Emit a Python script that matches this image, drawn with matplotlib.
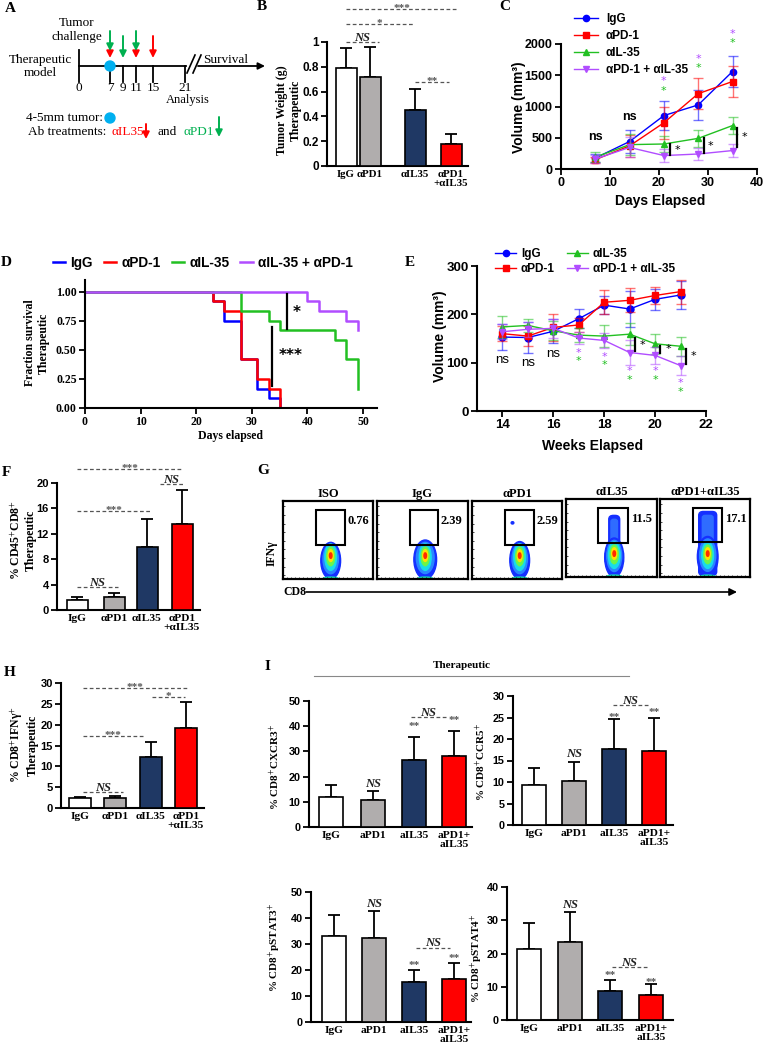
import numpy as np
import matplotlib.pyplot as plt
from matplotlib.lines import Line2D
from matplotlib.patches import Rectangle, Ellipse, Circle, FancyBboxPatch
from matplotlib.colors import to_rgba
from matplotlib.ticker import FuncFormatter

plt.rcParams['mathtext.fontset'] = 'stix'
SERIF = ['Liberation Serif', 'DejaVu Serif']
SANS = ['Liberation Sans', 'DejaVu Sans']

# ---------------- data ----------------
# B: tumor weight
groups_greek = ['IgG', 'αPD1', 'αIL35', 'αPD1\n+αIL35']
weight_mean = [0.79, 0.72, 0.45, 0.18]
weight_sd = [0.16, 0.24, 0.17, 0.08]

# C: tumor volume by day
days_c = [7, 14, 21, 28, 35]
c_names = ['IgG', 'αPD-1', 'αIL-35', 'αPD-1 + αIL-35']
c_igg = [175, 440, 855, 1025, 1560]
c_igg_sd = [60, 190, 235, 245, 250]
c_pd1 = [150, 370, 740, 1205, 1400]
c_pd1_sd = [50, 180, 260, 245, 245]
c_il35 = [190, 390, 400, 490, 695]
c_il35_sd = [80, 170, 130, 130, 140]
c_combo = [160, 345, 215, 240, 295]
c_combo_sd = [60, 160, 110, 100, 110]

# D: survival
d_names = ['IgG', 'αPD-1', 'αIL-35', 'αIL-35 + αPD-1']
surv_t_igg = [0, 23, 25, 28, 31, 33, 35]
surv_igg = [1.0, 0.917, 0.75, 0.417, 0.167, 0.083, 0.0]
surv_t_pd1 = [0, 23, 25, 28, 31, 33, 35]
surv_pd1 = [1.0, 0.917, 0.833, 0.417, 0.25, 0.167, 0.0]
surv_t_il35 = [0, 28, 33, 35, 45, 47, 49]
surv_il35 = [1.0, 0.833, 0.75, 0.667, 0.583, 0.417, 0.167]
surv_t_combo = [0, 40, 42, 47, 49]
surv_combo = [1.0, 0.917, 0.833, 0.75, 0.667]

# E: tumor volume by week
weeks_e = [14, 15, 16, 17, 18, 19, 20, 21]
e_names = ['IgG', 'αPD-1', 'αIL-35', 'αPD-1 + αIL-35']
e_igg = [153, 152, 165, 191, 219, 211, 231, 240]
e_igg_sd = [27, 32, 25, 20, 18, 37, 22, 28]
e_pd1 = [160, 155, 173, 178, 225, 229, 239, 247]
e_pd1_sd = [15, 20, 28, 15, 25, 25, 17, 25]
e_il35 = [174, 177, 166, 157, 155, 159, 139, 134]
e_il35_sd = [23, 14, 20, 15, 23, 23, 21, 20]
e_combo = [164, 169, 171, 151, 146, 121, 115, 94]
e_combo_sd = [15, 15, 20, 12, 15, 25, 18, 20]

# F, H
cd8_mean = [1.6, 2.1, 10.0, 13.6]
cd8_sd = [0.5, 0.5, 4.3, 5.3]
ifng_mean = [2.4, 2.4, 12.2, 19.3]
ifng_sd = [0.3, 0.5, 3.7, 6.1]

# G: flow gates
flow_titles = ['ISO', 'IgG', 'αPD1', 'αIL35', 'αPD1+αIL35']
flow_pct = ['0.76', '2.39', '2.59', '11.5', '17.1']

# I
groups_latin = ['IgG', 'aPD1', 'aIL35', 'aPD1+\naIL35']
cxcr3_mean = [11.9, 10.6, 26.5, 28.0]
cxcr3_sd = [4.9, 3.7, 9.3, 10.2]
ccr5_mean = [9.3, 10.3, 17.6, 17.3]
ccr5_sd = [3.9, 4.4, 7.1, 7.6]
pstat3_mean = [33.0, 32.3, 15.2, 16.5]
pstat3_sd = [8.3, 10.3, 4.7, 6.1]
pstat4_mean = [21.4, 23.5, 8.6, 7.6]
pstat4_sd = [7.8, 8.9, 3.4, 3.1]

# A: schedule
a_day_labels = ['0', '7', '9', '11', '15', '21']

BAR_COLORS = ['white', '#b0adad', '#1f3864', '#ff0000']
LINE_COLORS = ['#0000ff', '#ff0000', '#22c022', '#b14dff']
MARKERS = ['o', 's', '^', 'v']
RED, GREEN, BLUE = '#ff0000', '#00b050', '#00b0f0'

# ---------------- figure ----------------
W, H = 764, 1050
fig = plt.figure(figsize=(W / 100, H / 100), dpi=100)
ov = fig.add_axes([0, 0, 1, 1])
ov.set_xlim(0, W)
ov.set_ylim(H, 0)
ov.axis('off')


def px_axes(l, t, r, b):
    return fig.add_axes([l / W, 1 - b / H, (r - l) / W, (b - t) / H])


def txt(x, y, s, size=9, family=SERIF, weight='normal', **kw):
    kw.setdefault('ha', 'center')
    kw.setdefault('va', 'center')
    ov.text(x, y, s, fontsize=size, fontfamily=family, fontweight=weight, **kw)


def style(ax, tick_fs, family=SANS):
    for s in ['top', 'right']:
        ax.spines[s].set_visible(False)
    for s in ['left', 'bottom']:
        ax.spines[s].set_linewidth(1.5)
    ax.tick_params(width=1.3, length=4, labelsize=tick_fs, pad=2)
    ax.yaxis.set_major_formatter(FuncFormatter(lambda v, p: '{:g}'.format(round(v, 3))))
    for lab in ax.get_xticklabels() + ax.get_yticklabels():
        lab.set_fontfamily(family)
        lab.set_fontweight('bold')
    ax.set_facecolor('none')


def sig(ax, x1, x2, y, s, italic=False, fs=8, off=-1.5):
    ax.plot([x1, x2], [y, y], ls=(0, (3, 2)), color='#555555', lw=0.9, clip_on=False)
    ax.annotate(s, xy=((x1 + x2) / 2, y), xytext=(0, off), textcoords='offset points',
                ha='center', va='baseline', fontsize=fs, fontfamily=SERIF,
                fontweight='bold', style='italic' if italic else 'normal',
                color='#222222' if italic else '#555555', annotation_clip=False)


def bar_panel(ax, pos, width, means, sds, top, step, labels, tick_fs=7.5, lab_fs=8):
    ax.bar(pos, means, width, color=BAR_COLORS, edgecolor='black', linewidth=1.2, zorder=3)
    ax.errorbar(pos, means, yerr=[np.zeros(len(means)), sds], fmt='none', ecolor='black',
                elinewidth=1.3, capsize=4, capthick=1.3, zorder=2)
    ax.set_ylim(0, top)
    ax.set_yticks(np.arange(0, top + step / 2, step))
    ax.set_xticks(pos)
    ax.set_xticklabels(labels, linespacing=1.0)
    style(ax, tick_fs)
    for lab in ax.get_xticklabels():
        lab.set_fontfamily(SERIF)
        lab.set_fontsize(lab_fs)
    ax.tick_params(axis='x', length=0, pad=3)


def mark_above(ax, x, y, s, italic=False, fs=8):
    ax.text(x, y, s, ha='center', va='center', fontsize=fs, fontfamily=SERIF,
            fontweight='bold', style='italic' if italic else 'normal',
            color='#222222' if italic else '#555555', clip_on=False)


# ---------------- panel letters ----------------
for letter, x, y in [('A', 10, 8), ('B', 262, 7), ('C', 505, 7), ('D', 6, 263),
                     ('E', 410, 262), ('F', 6, 472), ('G', 263, 471), ('H', 10, 672),
                     ('I', 267, 667)]:
    txt(x, y, letter, size=11, weight='bold')

# ---------------- A: schedule ----------------
tick_x = [79, 110, 123, 136, 153, 185]
txt(77, 23, 'Tumor', size=9.5)
txt(77, 37, 'challenge', size=9.5)
txt(40, 60, 'Therapeutic', size=9.5)
txt(40, 73, 'model', size=9.5)
ov.plot([79, 186], [66, 66], color='black', lw=1.3)
ov.plot([79, 79], [50, 82], color='black', lw=1.3)
for x, lab in zip(tick_x, a_day_labels):
    if x != 79:
        ov.plot([x, x], [66, 82], color='black', lw=1.3)
    txt(x, 88, lab, size=9.5)
txt(188, 100, 'Analysis', size=9)
ov.plot([187, 195], [73, 55], color='black', lw=1.2)
ov.plot([193, 201], [73, 55], color='black', lw=1.2)
ov.annotate('', xy=(265, 66), xytext=(198, 66),
            arrowprops=dict(arrowstyle='-|>', color='black', lw=1.3, mutation_scale=10,
                            shrinkA=0, shrinkB=0))
txt(226, 60, 'Survival', size=9.5)
ov.add_patch(Circle((110, 66), 5, color=BLUE, zorder=5))


def arrow(x, y0, y1, color):
    ov.annotate('', xy=(x, y1), xytext=(x, y0),
                arrowprops=dict(arrowstyle='-|>', color=color, lw=1.4, mutation_scale=10,
                                shrinkA=0, shrinkB=0))


arrow(110, 44, 58, RED)
arrow(110, 31, 51, GREEN)
arrow(123, 36, 58, GREEN)
arrow(136, 44, 58, RED)
arrow(136, 31, 51, GREEN)
arrow(153, 36, 58, RED)
txt(103, 118, '4-5mm tumor:', size=9.5, ha='right')
ov.add_patch(Circle((110, 118), 5, color=BLUE))
txt(28, 132, 'Ab treatments:', size=9.5, ha='left')
txt(111, 132, 'αIL35', size=9.5, ha='left', color=RED)
arrow(146, 124, 139, RED)
txt(157, 132, 'and', size=9.5, ha='left')
txt(183, 132, 'αPD1', size=9.5, ha='left', color=GREEN)
arrow(219, 117, 137, GREEN)

# ---------------- B ----------------
axB = px_axes(327, 42, 468, 166)
posB = [19, 43, 88, 124]
bar_panel(axB, posB, 21, weight_mean, weight_sd, 1.0, 0.2, groups_greek, tick_fs=8.5, lab_fs=7.8)
axB.set_xlim(0, 141)
sig(axB, 19, 52, 1.0, 'NS', italic=True, fs=9, off=1)
sig(axB, 19, 86, 1.145, '*')
sig(axB, 19, 130, 1.266, '***')
sig(axB, 88, 122, 0.677, '**')
txt(289, 110, 'Tumor Weight (g)\nTherapeutic', size=8.5, weight='bold', rotation=90, linespacing=1.2)

# ---------------- C ----------------
axC = px_axes(561, 44, 757, 169)
c_series = [(c_igg, c_igg_sd), (c_pd1, c_pd1_sd), (c_il35, c_il35_sd), (c_combo, c_combo_sd)]
for (vals, sd), col, m in zip(c_series, LINE_COLORS, MARKERS):
    axC.errorbar(days_c, vals, yerr=sd, fmt='none', ecolor=to_rgba(col, 0.55),
                 elinewidth=1, capsize=3.5, capthick=1)
    axC.plot(days_c, vals, color=col, lw=1, marker=m, ms=4.5)
axC.set_xlim(0, 40)
axC.set_ylim(0, 2000)
axC.set_xticks(range(0, 41, 10))
axC.set_yticks(range(0, 2001, 500))
style(axC, 9)
for x, y in [(7, 520), (14, 840)]:
    axC.text(x, y, 'ns', ha='center', va='center', fontsize=9, fontfamily=SANS, fontweight='bold')
for x, yp, yg in [(21, 1415, 1255), (28, 1760, 1612), (35, 2154, 2010)]:
    axC.text(x, yp, '*', color=LINE_COLORS[3], ha='center', va='center', fontsize=8, clip_on=False)
    axC.text(x, yg, '*', color=LINE_COLORS[2], ha='center', va='center', fontsize=8, clip_on=False)
for x, y1, y2 in [(22.3, 220, 400), (29.1, 250, 495), (36.0, 360, 650)]:
    axC.plot([x, x], [y1, y2], color='black', lw=1.6)
    axC.text(x + 0.8, (y1 + y2) / 2, '*', ha='left', va='center', fontsize=8)
axC.legend([Line2D([], [], color=c, marker=m, ms=4.5, lw=1) for c, m in zip(LINE_COLORS, MARKERS)],
           c_names, loc='upper left', bbox_to_anchor=(568 / W, 1 - 7 / H),
           bbox_transform=fig.transFigure, frameon=False, handlelength=2.0, handletextpad=0.7,
           labelspacing=0.42, borderpad=0, prop=dict(family=SANS, weight='bold', size=8.5))
txt(660, 201, 'Days Elapsed', size=10, family=SANS, weight='bold')
txt(519, 107, 'Volume (mm³)', size=10, family=SANS, weight='bold', rotation=90)

# ---------------- D ----------------
axD = px_axes(85, 280, 377, 408)
d_series = [(surv_t_igg, surv_igg), (surv_t_pd1, surv_pd1), (surv_t_il35, surv_il35),
            (surv_t_combo, surv_combo)]
for (t, s), col in zip(d_series, LINE_COLORS):
    axD.step(t, s, where='post', color=col, lw=1.8)
axD.set_xlim(0, 52.5)
axD.set_ylim(0, 1.1)
axD.set_xticks(range(0, 51, 10))
axD.set_yticks([0, 0.25, 0.5, 0.75, 1.0])
style(axD, 8.5, family=SERIF)
axD.yaxis.set_major_formatter(FuncFormatter(lambda v, p: '{:.2f}'.format(v)))
for lab in axD.get_yticklabels():
    lab.set_fontfamily(SERIF)
    lab.set_fontweight('bold')
axD.plot([36.3, 36.3], [0.68, 0.98], color='black', lw=1.6)
axD.text(38.1, 0.82, '*', ha='center', va='center', fontsize=11, fontweight='bold')
axD.plot([33.6, 33.6], [0.19, 0.70], color='black', lw=1.6)
axD.text(37.0, 0.45, '***', ha='center', va='center', fontsize=11, fontweight='bold')
axD.legend([Line2D([], [], color=c, lw=1.8) for c in LINE_COLORS], d_names,
           loc='center left', bbox_to_anchor=(46 / W, 1 - 263 / H), bbox_transform=fig.transFigure,
           ncol=4, frameon=False, handlelength=0.9, handletextpad=0.4, columnspacing=0.8,
           borderpad=0, prop=dict(family=SANS, weight='bold', size=9.8))
txt(37, 343, 'Fraction survival\nTherapeutic', size=8.5, weight='bold', rotation=90, linespacing=1.2)
txt(230, 436, 'Days elapsed', size=8.5, weight='bold')

# ---------------- E ----------------
axE = px_axes(477, 266, 706, 411)
e_series = [(e_igg, e_igg_sd), (e_pd1, e_pd1_sd), (e_il35, e_il35_sd), (e_combo, e_combo_sd)]
for (vals, sd), col, m in zip(e_series, LINE_COLORS, MARKERS):
    axE.errorbar(weeks_e, vals, yerr=sd, fmt='none', ecolor=to_rgba(col, 0.55),
                 elinewidth=1, capsize=3.5, capthick=1)
    axE.plot(weeks_e, vals, color=col, lw=1, marker=m, ms=5)
axE.set_xlim(13, 22)
axE.set_ylim(0, 300)
axE.set_xticks(range(14, 23, 2))
axE.set_yticks(range(0, 301, 100))
style(axE, 9.5)
for x, y in [(14, 105), (15, 100), (16, 117)]:
    axE.text(x, y, 'ns', ha='center', va='center', fontsize=9.5, fontfamily=SANS)
for x, yp, yg in [(17, 121, 103), (18, 112, 95), (19, 83, 64), (20, 83, 64), (21, 58, 39)]:
    axE.text(x, yp, '*', color=LINE_COLORS[3], ha='center', va='center', fontsize=8)
    axE.text(x, yg, '*', color=LINE_COLORS[2], ha='center', va='center', fontsize=8)
for x, y1, y2 in [(19.19, 124, 151), (20.2, 120, 135), (21.2, 98, 128)]:
    axE.plot([x, x], [y1, y2], color='black', lw=1.6)
    axE.text(x + 0.2, (y1 + y2) / 2, '*', ha='left', va='center', fontsize=8)
axE.legend([Line2D([], [], color=c, marker=m, ms=4.5, lw=1) for c, m in zip(LINE_COLORS, MARKERS)],
           e_names, loc='upper left', bbox_to_anchor=(489 / W, 1 - 242 / H),
           bbox_transform=fig.transFigure, ncol=2, frameon=False, handlelength=1.8,
           handletextpad=0.4, columnspacing=1.0, labelspacing=0.3, borderpad=0,
           prop=dict(family=SANS, weight='bold', size=8.5))
txt(593, 446, 'Weeks Elapsed', size=10, family=SANS, weight='bold')
txt(440, 336, 'Volume (mm³)', size=10, family=SANS, weight='bold', rotation=90)

# ---------------- F ----------------
axF = px_axes(57, 483, 200, 610)
posF = [20, 57, 90, 125]
bar_panel(axF, posF, 21, cd8_mean, cd8_sd, 20, 4, groups_greek, tick_fs=8, lab_fs=8.2)
axF.set_xlim(0, 143)
sig(axF, 20, 61, 3.6, 'NS', italic=True, fs=9, off=1)
sig(axF, 20, 93, 15.6, '***')
sig(axF, 20, 125, 22.2, '***')
sig(axF, 103, 126, 19.8, 'NS', italic=True, fs=9, off=1)
txt(23, 540, '% CD45$^{+}$CD8$^{+}$\nTherapeutic', size=8.5, weight='bold', rotation=90, linespacing=1.2)

# ---------------- G ----------------
flow_boxes = [(283, 501, 373, 579), (377, 501, 468, 579), (472, 501, 562, 579),
              (566, 499, 657, 577), (660, 499, 750, 577)]
gates = [(0.37, 0.69, 0.43, 0.885), (0.36, 0.67, 0.43, 0.885), (0.37, 0.69, 0.43, 0.885),
         (0.355, 0.68, 0.435, 0.88), (0.37, 0.69, 0.45, 0.89)]
# (body top, body width, column top, column width)
blobs = [(0.47, 0.22, 0.0, 0.0), (0.50, 0.25, 0.0, 0.0), (0.48, 0.22, 0.0, 0.0),
         (0.50, 0.21, 0.83, 0.12), (0.52, 0.23, 0.88, 0.2)]
for box, gate, blob, title, pct in zip(flow_boxes, gates, blobs, flow_titles, flow_pct):
    ax = px_axes(*box)
    ax.set_xlim(0, 1)
    ax.set_ylim(0, 1)
    for s in ax.spines.values():
        s.set_linewidth(1.6)
    ax.set_xticks(np.arange(0.04, 1, 0.045))
    ax.set_yticks(np.arange(0.05, 1, 0.11))
    ax.tick_params(direction='in', length=1.5, width=0.5, labelleft=False, labelbottom=False)
    cx = 0.53
    btop, bw, ctop, cw = blob
    if ctop > 0:
        ax.add_patch(FancyBboxPatch((cx - cw / 2, 0.02), cw, ctop - 0.06,
                                    boxstyle='round,pad=0,rounding_size=0.05',
                                    color='#1530ff', mutation_aspect=1))
        ax.add_patch(FancyBboxPatch((cx - cw * 0.3, 0.05), cw * 0.6, ctop - 0.14,
                                    boxstyle='round,pad=0,rounding_size=0.03',
                                    color='#2f6cff', mutation_aspect=1))
    ax.add_patch(Ellipse((cx, btop / 2), bw, btop, color='#1530ff'))
    ax.add_patch(Ellipse((cx, btop / 2 + 0.02), bw * 0.78, btop * 0.8, color='#2a86ff'))
    ax.add_patch(Ellipse((cx, 0.28), 0.13, 0.34, color='#18dcea'))
    ax.add_patch(Ellipse((cx, 0.29), 0.09, 0.24, color='#6cf54a'))
    ax.add_patch(Ellipse((cx, 0.30), 0.055, 0.15, color='#ffe100'))
    ax.add_patch(Ellipse((cx, 0.30), 0.028, 0.07, color='#ff2a00'))
    ax.add_patch(Ellipse((cx, 0.0), 0.18, 0.05, color='#19d8b0'))
    gx0, gx1, gy0, gy1 = gate
    ax.add_patch(Rectangle((gx0, gy0), gx1 - gx0, gy1 - gy0, fill=False, ec='black', lw=1.5, zorder=5))
    ax.text(gx1 + 0.03, 0.75, pct, ha='left', va='center', fontsize=9, fontfamily=SERIF, fontweight='bold')
    ax.set_title(title, fontsize=9, fontfamily=SERIF, fontweight='bold', pad=3)
    if title == 'αPD1':
        ax.add_patch(Circle((0.45, 0.72), 0.015, color='#1530ff'))
txt(272, 553, 'IFNγ', size=8.5, weight='bold', rotation=90)
txt(283, 592, 'CD8', size=8.5, weight='bold', ha='left')
ov.annotate('', xy=(737, 592), xytext=(306, 592),
            arrowprops=dict(arrowstyle='-|>', color='black', lw=1.2, mutation_scale=11,
                            shrinkA=0, shrinkB=0))

# ---------------- H ----------------
axH = px_axes(61, 683, 204, 808)
posH = [19, 54, 90, 125]
bar_panel(axH, posH, 22, ifng_mean, ifng_sd, 30, 5, groups_greek, tick_fs=8, lab_fs=8.2)
axH.set_xlim(0, 143)
sig(axH, 22, 62, 3.84, 'NS', italic=True, fs=9, off=1)
sig(axH, 22, 82, 17.3, '***')
sig(axH, 22, 126, 28.8, '***')
sig(axH, 91, 124, 26.6, '*')
txt(24, 745, '% CD8$^{+}$IFNγ$^{+}$\nTherapeutic', size=8.5, weight='bold', rotation=90, linespacing=1.2)

# ---------------- I ----------------
txt(462, 665, 'Therapeutic', size=8, weight='bold')
ov.plot([314, 629], [676, 676], color='#888888', lw=0.8)

i_panels = [
    ((309, 701, 472, 827), [22, 64, 105, 145], 163, cxcr3_mean, cxcr3_sd, 50, 10, '% CD8$^{+}$CXCR3$^{+}$', (275, 767)),
    ((513, 696, 673, 825), [21, 61, 101, 141], 160, ccr5_mean, ccr5_sd, 30, 5, '% CD8$^{+}$CCR5$^{+}$', (481, 762)),
    ((311, 892, 471, 1022), [23, 63, 103, 143], 160, pstat3_mean, pstat3_sd, 50, 10, '% CD8$^{+}$pSTAT3$^{+}$', (275, 947)),
    ((507, 887, 673, 1020), [22, 63, 103, 144], 166, pstat4_mean, pstat4_sd, 40, 10, '% CD8$^{+}$pSTAT4$^{+}$', (477, 958)),
]
i_axes = []
for box, pos, xr, means, sds, top, step, ylab, lpos in i_panels:
    ax = px_axes(*box)
    bar_panel(ax, pos, 24, means, sds, top, step, groups_latin, tick_fs=7.8, lab_fs=8.2)
    ax.set_xlim(0, xr)
    txt(lpos[0], lpos[1], ylab, size=8, weight='bold', rotation=90)
    i_axes.append(ax)

ax = i_axes[0]
mark_above(ax, 64, 17.2, 'NS', italic=True, fs=9)
mark_above(ax, 105, 40.0, '**')
mark_above(ax, 145, 42.3, '**')
sig(ax, 102, 137, 43.6, 'NS', italic=True, fs=9, off=1)
ax = i_axes[1]
mark_above(ax, 61, 16.4, 'NS', italic=True, fs=9)
mark_above(ax, 101, 24.9, '**')
mark_above(ax, 141, 26.1, '**')
sig(ax, 100, 135, 27.9, 'NS', italic=True, fs=9, off=1)
ax = i_axes[2]
mark_above(ax, 63, 45.5, 'NS', italic=True, fs=9)
mark_above(ax, 103, 21.6, '**')
mark_above(ax, 143, 24.5, '**')
sig(ax, 105, 139, 28.6, 'NS', italic=True, fs=9, off=1)
ax = i_axes[3]
mark_above(ax, 63, 34.7, 'NS', italic=True, fs=9)
mark_above(ax, 103, 13.3, '**')
mark_above(ax, 144, 11.3, '**')
sig(ax, 105, 140, 15.9, 'NS', italic=True, fs=9, off=1)

fig.savefig('out.png', dpi=100)
